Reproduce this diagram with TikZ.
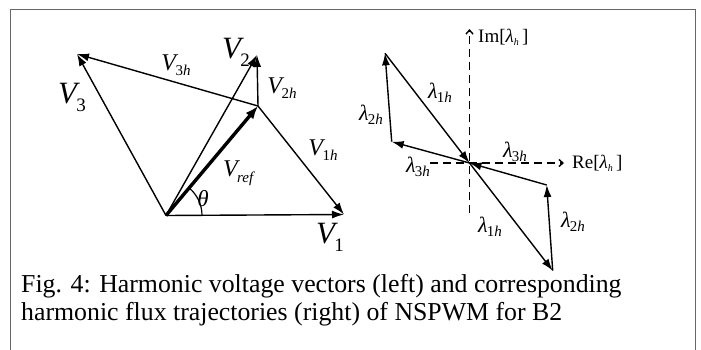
\documentclass[tikz,border=0pt]{standalone}
\usepackage{fontspec}
\setmainfont{Liberation Serif}
\usetikzlibrary{arrows.meta}
\newcommand{\VbigLab}[1]{{\fontsize{31}{31}\selectfont\itshape V}\kern-0.5pt\raisebox{-8pt}{\fontsize{19}{19}\selectfont #1}}
\newcommand{\VsmLab}[1]{{\fontsize{24}{24}\selectfont\itshape V}\kern-0.5pt\raisebox{-5.5pt}{\fontsize{15}{15}\selectfont #1}}
\newcommand{\LamLab}[1]{{\fontsize{22}{22}\selectfont\itshape λ}\kern-1pt\raisebox{-4.5pt}{\fontsize{15}{15}\selectfont #1}}
\newcommand{\AxLab}[1]{{\fontsize{19}{19}\selectfont #1[\textit{λ}\raisebox{-3pt}{\fontsize{10}{10}\selectfont\textit{h}}\,]}}
\begin{document}
\begin{tikzpicture}[x=1pt,y=1pt,
  vec/.style={line width=1.4pt,-{Latex[length=12pt,width=8pt]}},
  thickvec/.style={line width=3.4pt,-{Latex[length=13pt,width=10pt]}},
  axisline/.style={line width=1.4pt,dash pattern=on 8pt off 5pt,-{Straight Barb[length=4pt,width=7pt]}},
  lab/.style={inner sep=0pt}]
\useasboundingbox (0,0) rectangle (701,349);
\draw[gray!80!black,line width=1pt] (10,-2) -- (10,339) -- (695.5,339) -- (695.5,-2);
% left diagram
\coordinate (O) at (166,133.5);
\coordinate (V1t) at (344,134.5);
\coordinate (V3t) at (77,295);
\coordinate (V2t) at (257,294);
\coordinate (P) at (258,243);
\draw[vec] (O) -- (V1t);
\draw[vec] (O) -- (V3t);
\draw[vec] (O) -- (V2t);
\draw[vec] (P) -- (V3t);
\draw[vec] (P) -- (V2t);
\draw[vec] (P) -- (V1t);
\draw[thickvec] (O) -- (P);
\draw[line width=1.2pt] ([shift={(0:36)}]O) arc[start angle=0,end angle=50,radius=36];
\node[lab] (lV3h) at (176,284) {\VsmLab{3\textit{h}}};
\node[lab] (lV2) at (236,297) {\VbigLab{2}};
\node[lab] (lV2h) at (282,261) {\VsmLab{2\textit{h}}};
\node[lab] (lV3) at (72,252) {\VbigLab{3}};
\node[lab] (lV1h) at (323,199) {\VsmLab{1\textit{h}}};
\node[lab] (lVref) at (239,176) {\VsmLab{\textit{ref}}};
\node[lab] (lth) at (203,150) {\fontsize{23}{23}\selectfont\textit{θ}};
\node[lab] (lV1) at (330,112) {\VbigLab{1}};
% right diagram
\coordinate (C) at (469.5,186);
\coordinate (A) at (385,295.7);
\coordinate (B) at (391.7,207.3);
\coordinate (D) at (546.7,164);
\coordinate (E) at (552.7,78.3);
\coordinate (ImB) at (469.5,136);
\coordinate (ImT) at (469.5,320);
\coordinate (ReL) at (430,186);
\coordinate (ReR) at (564,186);
\draw[axisline] (ImB) -- (ImT);
\draw[axisline] (ReL) -- (ReR);
\draw[vec] (A) -- (C);
\draw[vec] (B) -- (A);
\draw[vec] (C) -- (B);
\draw[vec] (C) -- (E);
\draw[vec] (E) -- (D);
\draw[vec] (D) -- (C);
\node[lab,anchor=west] (lIm) at (478,312) {\AxLab{Im}};
\node[lab,anchor=west] (lRe) at (572,186) {\AxLab{Re}};
\node[lab] (l1a) at (440,256) {\LamLab{1\textit{h}}};
\node[lab] (l2a) at (371,234) {\LamLab{2\textit{h}}};
\node[lab] (l3a) at (418,182) {\LamLab{3\textit{h}}};
\node[lab] (l3b) at (515,197) {\LamLab{3\textit{h}}};
\node[lab] (l1b) at (490,122) {\LamLab{1\textit{h}}};
\node[lab] (l2b) at (573,127) {\LamLab{2\textit{h}}};
% caption
\node[lab,anchor=base west] (cap1) at (21,57) {\fontsize{25.8}{25.8}\selectfont Fig. 4: Harmonic voltage vectors (left) and corresponding};
\node[lab,anchor=base west] (cap2) at (21,29) {\fontsize{25.8}{25.8}\selectfont harmonic flux trajectories (right) of NSPWM for B2};
\end{tikzpicture}
\end{document}
